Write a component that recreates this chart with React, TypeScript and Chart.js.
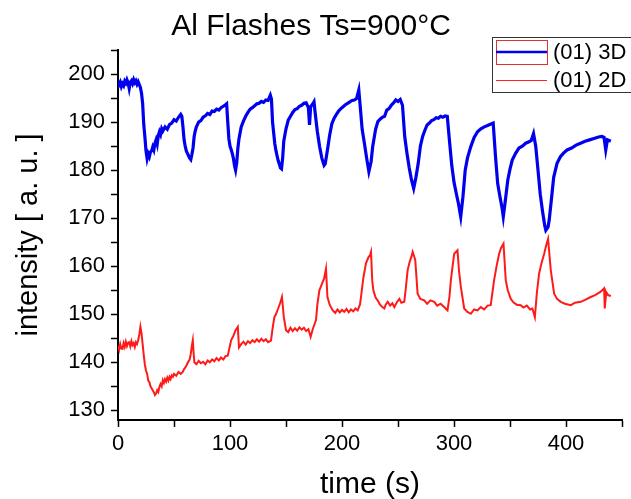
import React, { useEffect, useRef } from "react";
import { Chart, registerables } from "chart.js";

Chart.register(...registerables);

const chartTitle = "Al Flashes Ts=900°C";
const xTitle = "time (s)";
const yTitle = "intensity [ a. u. ]";
const legendLabels = ["(01) 3D", "(01) 2D"];
const xTickValues = [0, 50, 100, 150, 200, 250, 300, 350, 400, 450];
const yTickValues = [130, 135, 140, 145, 150, 155, 160, 165, 170, 175, 180, 185, 190, 195, 200, 205];

// (time s, intensity)
const series3D: [number, number][] = [
  [0, 198.6], [1, 197.8], [2, 198.3], [3, 197.4], [4, 198.0], [5, 197.6], [6, 198.5], [7, 198.1],
  [8, 198.8], [9, 198.2], [10, 197.0], [11, 198.3], [12, 198.6], [13, 198.0], [14, 198.8], [15, 198.2],
  [16, 198.6], [17, 197.9], [18, 198.4], [19, 197.8], [20, 197.2], [21, 196.0], [22, 193.9], [23, 189.5],
  [24, 186.9], [25, 184.0], [26, 182.4], [27, 183.4], [28, 182.8], [29, 183.8], [30, 184.0], [31, 184.8],
  [32, 184.2], [33, 185.6], [34, 186.3], [35, 185.4], [36, 187.2], [37, 188.0], [38, 187.4], [39, 188.6],
  [40, 188.1], [42, 189.0], [44, 188.5], [46, 189.5], [48, 189.8], [50, 190.5], [52, 190.2], [54, 191.0],
  [56, 191.6], [57, 191.2], [58, 189.0], [59, 186.3], [60, 185.0], [61, 184.0], [62, 183.5], [63, 183.0],
  [64, 182.5], [65, 182.2], [66, 183.3], [67, 184.6], [68, 187.0], [69, 188.2], [70, 189.0], [72, 190.0],
  [74, 190.3], [76, 191.0], [78, 191.3], [80, 191.8], [82, 191.6], [84, 192.3], [86, 192.2], [88, 192.7],
  [90, 192.5], [92, 193.0], [94, 193.3], [96, 193.6], [97, 193.8], [98, 190.0], [99, 186.5], [100, 185.0],
  [101, 184.3], [102, 183.5], [103, 182.5], [104, 181.0], [105, 180.0], [106, 181.5], [107, 184.5], [108, 186.5],
  [110, 189.0], [112, 190.2], [114, 191.2], [116, 192.0], [118, 192.7], [120, 193.0], [122, 193.4], [124, 193.8],
  [126, 193.9], [128, 194.3], [130, 194.1], [132, 194.6], [134, 194.5], [136, 195.6], [137, 194.8], [138, 190.0],
  [140, 185.5], [141, 184.1], [142, 183.0], [143, 182.0], [144, 181.3], [145, 180.5], [146, 180.3], [147, 182.5],
  [148, 186.0], [150, 188.6], [152, 190.4], [154, 191.2], [156, 192.0], [158, 192.6], [160, 192.8], [162, 193.3],
  [164, 193.5], [166, 193.9], [168, 194.0], [170, 193.0], [171, 189.4], [172, 193.2], [174, 193.8], [175, 194.2],
  [176, 192.0], [178, 188.0], [180, 184.9], [182, 182.5], [184, 181.0], [185, 181.3], [187, 184.2], [189, 187.3],
  [191, 189.7], [193, 190.8], [195, 191.6], [197, 192.3], [199, 192.8], [201, 193.2], [203, 193.6], [205, 193.9],
  [207, 194.2], [209, 194.5], [211, 194.6], [213, 194.9], [215, 196.7], [216, 194.0], [218, 188.5], [220, 185.6],
  [222, 182.5], [224, 179.7], [226, 181.8], [227.4, 184.9], [230, 188.5], [232, 190.1], [234, 190.6], [236, 191.0],
  [238, 191.2], [240, 192.5], [242, 192.8], [244, 193.5], [246, 194.0], [248, 194.6], [250, 194.3], [252, 194.7],
  [254, 193.5], [256, 187.0], [258, 183.5], [260, 180.5], [262, 178.0], [264, 176.2], [266, 178.5], [268, 181.3],
  [270, 185.0], [272, 187.0], [274, 188.3], [276, 189.4], [278, 189.8], [280, 190.3], [282, 190.5], [284, 190.9],
  [286, 190.8], [288, 191.2], [290, 191.0], [292, 191.3], [294, 191.2], [296, 186.0], [298, 181.0], [300, 177.5],
  [302, 175.2], [304, 173.0], [306, 170.3], [308, 174.5], [310, 180.0], [312, 182.5], [315, 184.9], [318, 186.8],
  [321, 188.0], [324, 188.6], [327, 189.0], [330, 189.3], [333, 189.6], [335, 189.8], [337, 183.0], [339, 177.2],
  [341, 174.5], [343, 172.0], [344, 170.3], [346, 174.0], [348, 177.9], [350, 180.2], [352, 182.1], [355, 183.5],
  [358, 184.6], [361, 185.0], [364, 185.6], [367, 185.9], [369, 186.2], [371, 187.6], [373, 184.9], [375, 180.0],
  [377, 175.0], [379, 171.5], [381, 168.5], [382, 167.5], [384, 168.2], [385, 169.6], [387, 174.0], [389, 178.5],
  [392, 181.4], [395, 182.8], [398, 183.6], [401, 184.2], [405, 184.6], [409, 185.2], [413, 185.6], [417, 186.0],
  [421, 186.3], [425, 186.6], [429, 186.9], [432, 187.0], [434, 186.8], [435.5, 184.2], [437, 186.3], [440, 186.0],
];

const series2D: [number, number][] = [
  [0, 143.5], [1, 142.6], [2, 143.8], [3, 142.9], [4, 142.8], [5, 144.0], [6, 143.2], [7, 144.3],
  [8, 143.4], [9, 144.1], [10, 144.2], [11, 143.3], [12, 144.4], [13, 143.6], [14, 144.0], [15, 143.2],
  [16, 144.2], [17, 143.8], [18, 144.6], [19, 145.8], [20, 147.4], [21, 146.0], [22, 143.8], [23, 141.5],
  [24, 139.5], [25, 138.3], [26, 137.6], [27, 136.2], [28, 135.9], [29, 135.0], [30, 134.6], [31, 134.2],
  [32, 133.8], [33, 133.2], [34, 133.5], [35, 134.2], [36, 133.8], [37, 134.9], [38, 135.5], [39, 135.0],
  [40, 136.3], [41, 135.7], [42, 136.5], [43, 136.0], [44, 136.8], [45, 136.2], [46, 137.0], [47, 136.5],
  [48, 137.3], [49, 137.0], [50, 137.6], [52, 137.2], [54, 138.0], [56, 137.6], [57.8, 138.0], [59, 138.6],
  [60, 138.9], [61, 139.3], [62, 139.8], [63, 140.2], [64, 140.6], [65, 141.8], [66, 143.5], [66.8, 144.6],
  [67.5, 142.0], [68.2, 140.0], [70, 139.6], [72, 140.3], [74, 139.8], [76, 140.1], [78, 139.6], [80, 140.4],
  [82, 140.0], [84, 140.6], [86, 140.2], [88, 140.9], [90, 140.4], [92, 141.0], [94, 140.6], [96, 141.3],
  [98, 141.4], [100, 143.5], [101, 144.6], [103, 145.5], [105, 146.7], [107, 147.4], [108, 143.1], [110, 143.8],
  [112, 144.3], [114, 143.7], [116, 144.4], [118, 144.0], [120, 144.6], [122, 144.2], [124, 144.8], [126, 144.3],
  [128, 144.9], [130, 144.4], [132, 144.8], [134, 144.2], [136.6, 144.5], [138, 147.0], [139.6, 149.4], [141, 150.0],
  [143, 151.2], [145, 152.5], [146.4, 153.6], [148, 149.5], [150, 146.7], [152, 146.3], [154, 147.2], [156, 146.5],
  [158, 147.1], [160, 146.6], [162, 147.3], [164, 146.8], [166, 147.2], [168, 146.5], [170, 146.9], [172, 145.3],
  [174, 147.0], [176.8, 148.8], [178, 152.0], [179.8, 155.0], [182, 156.3], [184, 157.4], [185.7, 159.5], [187, 153.6],
  [189, 152.0], [191.7, 150.8], [194, 150.3], [196, 151.0], [198, 150.4], [200, 150.9], [202, 150.5], [204, 151.1],
  [206, 150.4], [208, 151.0], [210, 150.6], [212, 151.2], [214, 150.8], [216, 152.0], [217, 153.6], [219, 157.5],
  [221.4, 160.6], [223.5, 161.8], [225, 162.3], [225.9, 163.0], [227, 157.0], [228, 155.0], [230, 153.5], [231.8, 152.9],
  [234, 152.0], [236, 151.5], [237.8, 151.2], [239, 152.0], [240.8, 152.6], [243, 151.8], [245, 152.3], [246.7, 151.5],
  [249, 152.5], [251.2, 153.2], [253, 152.4], [255.6, 152.6], [257, 155.5], [258.6, 159.2], [260.5, 161.0], [262, 162.0],
  [263.1, 163.0], [265.4, 161.3], [267.5, 154.3], [270, 153.2], [273.4, 152.9], [276, 152.2], [279, 152.9], [282.3, 152.6],
  [285, 151.8], [288, 152.2], [291.2, 151.5], [294.2, 150.8], [296, 153.8], [297.2, 157.1], [299, 160.5], [300.2, 162.6],
  [303.1, 163.3], [304.5, 159.0], [306.1, 155.7], [309.1, 151.2], [312, 150.5], [315, 150.1], [318, 151.0], [321, 150.8],
  [323.9, 151.5], [327, 151.0], [330, 151.8], [332.8, 151.9], [334, 154.0], [335.8, 157.1], [338, 160.0], [340.3, 162.6],
  [342, 163.8], [344.2, 164.7], [346.2, 157.1], [348, 155.0], [350.7, 153.2], [353, 152.5], [356, 152.0], [359.6, 151.9],
  [362, 151.4], [365, 151.8], [368, 151.0], [370, 151.2], [372.2, 149.4], [374, 154.5], [376, 158.5], [378, 160.5],
  [380.5, 162.6], [382.5, 164.5], [384, 165.7], [386.4, 159.2], [389.4, 154.3], [392, 153.2], [395.3, 152.6], [399, 152.2],
  [404.3, 151.9], [408, 152.4], [413.2, 152.6], [417, 153.0], [422.1, 153.6], [426, 154.0], [431, 154.7], [434, 155.4],
  [434.6, 151.2], [436, 154.6], [437.6, 154.0], [440, 153.8],
];

const FONT = "'Liberation Sans', Arial, sans-serif";

const legendPlugin = {
  id: "boxLegend",
  afterDraw(chart: any) {
    const ctx = chart.ctx;
    ctx.save();
    ctx.lineWidth = 1;
    ctx.strokeStyle = "#333";
    ctx.strokeRect(492.5, 37.5, 160, 55);
    ctx.strokeStyle = "#e03030";
    ctx.strokeRect(496.5, 40.5, 51, 24);
    ctx.beginPath();
    ctx.strokeStyle = "#0000ee";
    ctx.lineWidth = 2.5;
    ctx.moveTo(496, 52);
    ctx.lineTo(547, 52);
    ctx.stroke();
    ctx.beginPath();
    ctx.strokeStyle = "#ff2020";
    ctx.lineWidth = 1;
    ctx.moveTo(496, 80.5);
    ctx.lineTo(547, 80.5);
    ctx.stroke();
    ctx.fillStyle = "#000";
    ctx.font = `22px ${FONT}`;
    ctx.textBaseline = "middle";
    ctx.fillText(legendLabels[0], 553, 53);
    ctx.fillText(legendLabels[1], 553, 81);
    ctx.restore();
  },
};

export default function App() {
  const ref = useRef<HTMLCanvasElement>(null);
  useEffect(() => {
    document.body.style.margin = "0";
    const c = ref.current!;
    const axisCommon = {
      type: "linear" as const,
      grid: { display: true, drawOnChartArea: false, drawTicks: true, tickLength: 7, tickColor: "#000", tickWidth: 1.5 },
      border: { display: true, color: "#000", width: 2 },
    };
    const chart = new Chart(c, {
      type: "line",
      data: {
        datasets: [
          {
            label: legendLabels[0],
            data: series3D.map(([x, y]) => ({ x, y })),
            borderColor: "#0000ee",
            borderWidth: 3.2,
            pointRadius: 0,
            tension: 0,
          },
          {
            label: legendLabels[1],
            data: series2D.map(([x, y]) => ({ x, y })),
            borderColor: "#ff1a1a",
            borderWidth: 2,
            pointRadius: 0,
            tension: 0,
          },
        ],
      },
      options: {
        animation: false,
        responsive: false,
        events: [],
        layout: { padding: { left: 0, right: 9, top: 0, bottom: 0 } },
        plugins: {
          legend: { display: false },
          tooltip: { enabled: false },
          title: {
            display: true,
            text: chartTitle,
            color: "#000",
            font: { family: FONT, size: 30, weight: "normal" },
            padding: { top: 9, bottom: 5 },
          },
        },
        scales: {
          x: {
            ...axisCommon,
            min: 0,
            max: 450,
            afterBuildTicks: (s: any) => { s.ticks = xTickValues.map((value) => ({ value })); },
            ticks: {
              color: "#000",
              font: { family: FONT, size: 22 },
              padding: 4,
              maxRotation: 0,
              autoSkip: false,
              callback: (v: any) => (Number(v) % 100 === 0 ? String(v) : ""),
            },
            title: { display: true, text: xTitle, color: "#000", font: { family: FONT, size: 30 }, padding: { top: 0, bottom: -4 } },
            afterFit: (s: any) => { s.height = 79; },
          },
          y: {
            ...axisCommon,
            min: 128,
            max: 205,
            afterBuildTicks: (s: any) => { s.ticks = yTickValues.map((value) => ({ value })); },
            ticks: {
              color: "#000",
              font: { family: FONT, size: 22 },
              padding: 6,
              autoSkip: false,
              callback: (v: any) => (Number(v) % 10 === 0 ? String(v) : ""),
            },
            title: { display: true, text: yTitle, color: "#000", font: { family: FONT, size: 29 }, padding: { top: 12, bottom: 0 } },
            afterFit: (s: any) => { s.width = 118; },
          },
        },
      },
      plugins: [legendPlugin],
    });
    return () => chart.destroy();
  }, []);
  return (
    <div style={{ width: 631, height: 499, background: "#fff" }}>
      <canvas ref={ref} width={631} height={499} style={{ display: "block" }} />
    </div>
  );
}
